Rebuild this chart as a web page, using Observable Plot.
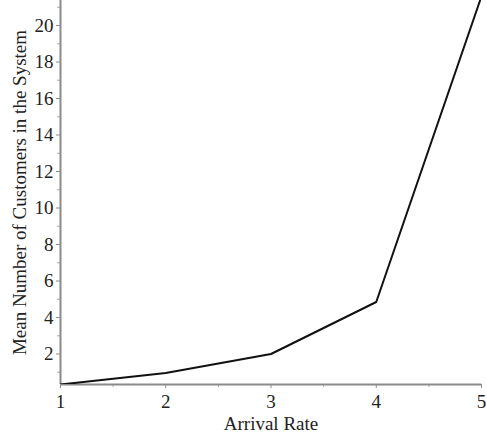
<!DOCTYPE html>
<html>
<head>
<meta charset="utf-8">
<script src="https://cdn.jsdelivr.net/npm/d3@7"></script>
<script src="https://cdn.jsdelivr.net/npm/@observablehq/plot@0.6"></script>
<style>
  html, body { margin: 0; padding: 0; background: #fff; }
  #chart svg { display: block; }
</style>
</head>
<body>
<div id="chart"></div>
<script>
const arrivalRate = [1, 2, 3, 4, 5];
const meanCustomers = [0.33, 0.96, 2.0, 4.85, 21.6];
const xTicks = [1, 2, 3, 4, 5];
const xMinorTicks = [1.5, 2.5, 3.5, 4.5];
const yTicks = [2, 4, 6, 8, 10, 12, 14, 16, 18, 20];
const yMinorTicks = [1, 3, 5, 7, 9, 11, 13, 15, 17, 19, 21];
const xLabel = "Arrival Rate";
const yLabel = "Mean Number of Customers in the System";

const data = arrivalRate.map((x, i) => ({x, y: meanCustomers[i]}));
const yMin = 0.33, yMax = 21.37;
const axisColor = "#8a8a8a";

const chart = Plot.plot({
  width: 487,
  height: 435,
  marginLeft: 60,
  marginRight: 6,
  marginTop: 0,
  marginBottom: 51,
  style: {fontFamily: "'Liberation Serif', serif", fontSize: "18px", color: "#222", background: "#fff"},
  x: {domain: [1, 5]},
  y: {domain: [yMin, yMax]},
  marks: [
    Plot.axisX({ticks: xMinorTicks, tickSize: 3, text: null, stroke: "#aaa", label: null}),
    Plot.axisX({ticks: xTicks, tickFormat: "d", tickSize: 4, tickPadding: 6, stroke: axisColor, label: xLabel, labelAnchor: "center", labelOffset: 45, labelArrow: "none", fontSize: 19}),
    Plot.axisY({ticks: yMinorTicks.filter(v => v >= yMin && v <= yMax), tickSize: 3, text: null, stroke: "#aaa", label: null}),
    Plot.axisY({ticks: yTicks, tickFormat: "d", tickSize: 4, tickPadding: 3, stroke: axisColor, label: yLabel, labelAnchor: "center", labelOffset: 48, labelArrow: "none", fontSize: 19}),
    Plot.ruleX([1], {stroke: axisColor, strokeWidth: 2}),
    Plot.ruleY([yMin], {stroke: axisColor, strokeWidth: 2}),
    Plot.line(data, {x: "x", y: "y", stroke: "#111", strokeWidth: 2, clip: true})
  ]
});
document.getElementById("chart").appendChild(chart);
</script>
</body>
</html>
